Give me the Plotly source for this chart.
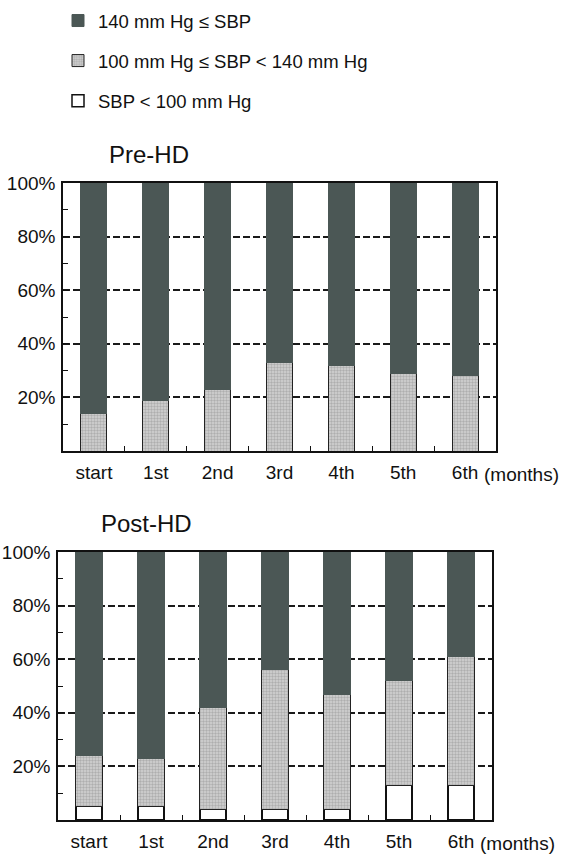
import plotly.graph_objects as go
from plotly.subplots import make_subplots

# Share of patients in each systolic blood pressure band (%), by month
months = ["start", "1st", "2nd", "3rd", "4th", "5th", "6th"]

pre_low = [0, 0, 0, 0, 0, 0, 0]          # SBP < 100
pre_mid = [14, 19, 23, 33, 32, 29, 28]   # 100 <= SBP < 140
pre_high = [86, 81, 77, 67, 68, 71, 72]  # 140 <= SBP

post_low = [5, 5, 4, 4, 4, 13, 13]
post_mid = [19, 18, 38, 52, 43, 39, 48]
post_high = [76, 77, 58, 44, 53, 48, 39]

y_ticks = [20, 40, 60, 80, 100]
y_ticktext = [f"{v}%" for v in y_ticks]

FONT = "Liberation Sans, Arial, Helvetica, sans-serif"
DARK = "#4b5755"
INK = "#111111"

W, H = 563, 861

fig = make_subplots(rows=2, cols=1)

# stacking order bottom -> top; legend rank lists the top band first
bands = [
    ("SBP < 100 mm Hg", 3, dict(color="white", line=dict(color=INK, width=1.5))),
    ("100 mm Hg \u2264 SBP < 140 mm Hg", 2,
     dict(color="#d4d4d4", line=dict(color="#222222", width=1),
          pattern=dict(shape=".", size=3, solidity=0.5, fgcolor="#888888"))),
    ("140 mm Hg \u2264 SBP", 1, dict(color=DARK, line=dict(color=DARK, width=1))),
]

for row, series in ((1, (pre_low, pre_mid, pre_high)), (2, (post_low, post_mid, post_high))):
    for (name, rank, marker), vals in zip(bands, series):
        fig.add_trace(
            go.Bar(
                x=months, y=vals, name=name, marker=marker, width=0.42,
                legendgroup=name, legendrank=rank, showlegend=(row == 1),
                hoverinfo="x+y+name",
            ),
            row=row, col=1,
        )

def px_x(p):
    return p / W

def px_y(p):
    return 1 - p / H

axis_common = dict(
    showline=True, mirror=True, linecolor=INK, linewidth=1.5,
    tickfont=dict(family=FONT, size=19, color=INK),
)

fig.update_xaxes(
    **axis_common, type="category", range=[-0.5, 6.5],
    ticks="inside", tickson="boundaries", ticklen=5, tickcolor=INK,
    showgrid=False, ticklabelstandoff=3,
)
fig.update_yaxes(
    **axis_common, range=[0, 100], tickmode="array", tickvals=y_ticks,
    ticktext=y_ticktext, ticks="inside", ticklen=6, tickcolor=INK,
    showgrid=True, gridcolor="#1a1a1a", gridwidth=1.5, griddash="7px,3px",
    zeroline=False, ticklabelstandoff=2,
    minor=dict(dtick=10, tick0=0, ticks="inside", ticklen=5, tickcolor=INK, showgrid=False),
)

label_font = dict(family=FONT, size=19, color=INK)
title_font = dict(family=FONT, size=24, color=INK)

fig.update_layout(
    width=W, height=H,
    margin=dict(l=0, r=0, t=0, b=0, autoexpand=False),
    paper_bgcolor="white", plot_bgcolor="white",
    barmode="stack", bargap=0.5,
    font=dict(family=FONT, color=INK),
    xaxis=dict(domain=[px_x(63), px_x(496)]),
    yaxis=dict(domain=[px_y(451), px_y(183)]),
    xaxis2=dict(domain=[px_x(58), px_x(492)]),
    yaxis2=dict(domain=[px_y(820), px_y(552)]),
    legend=dict(
        x=px_x(58), y=px_y(2), xanchor="left", yanchor="top",
        traceorder="grouped", tracegroupgap=13,
        font=dict(family=FONT, size=18.5, color=INK),
        bgcolor="rgba(0,0,0,0)",
    ),
    annotations=[
        dict(text="Pre-HD", xref="paper", yref="paper", x=px_x(149), y=px_y(155),
             xanchor="center", yanchor="middle", showarrow=False, font=title_font),
        dict(text="Post-HD", xref="paper", yref="paper", x=px_x(146), y=px_y(523),
             xanchor="center", yanchor="middle", showarrow=False, font=title_font),
        dict(text="(months)", xref="x", yref="paper", x=6, y=px_y(474), xanchor="left",
             yanchor="middle", xshift=17, showarrow=False, font=label_font),
        dict(text="(months)", xref="x2", yref="paper", x=6, y=px_y(843), xanchor="left",
             yanchor="middle", xshift=17, showarrow=False, font=label_font),
    ],
)

fig.write_html("out.html")
